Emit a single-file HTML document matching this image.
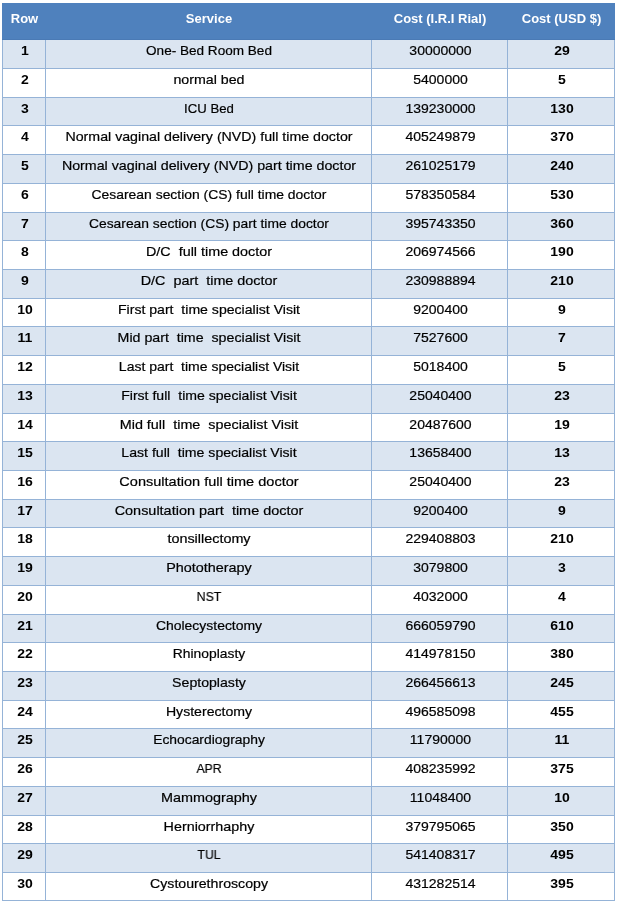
<!DOCTYPE html><html><head><meta charset="utf-8"><style>
html,body{margin:0;padding:0;background:#fff;width:619px;height:903px;overflow:hidden;position:relative;}
div{position:absolute;}
.t{font-family:"Liberation Sans",sans-serif;white-space:pre;text-align:center;line-height:20px;height:20px;color:#000;will-change:transform;}
.r{-webkit-text-stroke:0.2px currentColor;}
.b{font-weight:bold;}
.h{color:#fff;font-weight:bold;font-size:13px;}
.r{font-size:13px;transform:scaleX(1.077);}
.rb{font-size:13px;font-weight:bold;transform:scaleX(1.077);}
</style></head><body>
<div style="left:2px;top:3px;width:613px;height:37px;background:#4F81BD"></div>
<div style="left:2px;top:39px;width:613px;height:1px;background:#4A7AB5"></div>
<div style="left:2px;top:40px;width:613px;height:28px;background:#DBE5F1"></div>
<div style="left:2px;top:98px;width:613px;height:27px;background:#DBE5F1"></div>
<div style="left:2px;top:155px;width:613px;height:28px;background:#DBE5F1"></div>
<div style="left:2px;top:213px;width:613px;height:27px;background:#DBE5F1"></div>
<div style="left:2px;top:270px;width:613px;height:28px;background:#DBE5F1"></div>
<div style="left:2px;top:327px;width:613px;height:28px;background:#DBE5F1"></div>
<div style="left:2px;top:385px;width:613px;height:28px;background:#DBE5F1"></div>
<div style="left:2px;top:442px;width:613px;height:28px;background:#DBE5F1"></div>
<div style="left:2px;top:500px;width:613px;height:27px;background:#DBE5F1"></div>
<div style="left:2px;top:557px;width:613px;height:28px;background:#DBE5F1"></div>
<div style="left:2px;top:615px;width:613px;height:27px;background:#DBE5F1"></div>
<div style="left:2px;top:672px;width:613px;height:28px;background:#DBE5F1"></div>
<div style="left:2px;top:729px;width:613px;height:28px;background:#DBE5F1"></div>
<div style="left:2px;top:787px;width:613px;height:28px;background:#DBE5F1"></div>
<div style="left:2px;top:844px;width:613px;height:28px;background:#DBE5F1"></div>
<div style="left:2px;top:40px;width:1px;height:861px;background:#95B3D7"></div>
<div style="left:45px;top:40px;width:1px;height:861px;background:#95B3D7"></div>
<div style="left:371px;top:40px;width:1px;height:861px;background:#95B3D7"></div>
<div style="left:507px;top:40px;width:1px;height:861px;background:#95B3D7"></div>
<div style="left:614px;top:40px;width:1px;height:861px;background:#95B3D7"></div>
<div style="left:2px;top:68px;width:613px;height:1px;background:#95B3D7"></div>
<div style="left:2px;top:97px;width:613px;height:1px;background:#95B3D7"></div>
<div style="left:2px;top:125px;width:613px;height:1px;background:#95B3D7"></div>
<div style="left:2px;top:154px;width:613px;height:1px;background:#95B3D7"></div>
<div style="left:2px;top:183px;width:613px;height:1px;background:#95B3D7"></div>
<div style="left:2px;top:212px;width:613px;height:1px;background:#95B3D7"></div>
<div style="left:2px;top:240px;width:613px;height:1px;background:#95B3D7"></div>
<div style="left:2px;top:269px;width:613px;height:1px;background:#95B3D7"></div>
<div style="left:2px;top:298px;width:613px;height:1px;background:#95B3D7"></div>
<div style="left:2px;top:326px;width:613px;height:1px;background:#95B3D7"></div>
<div style="left:2px;top:355px;width:613px;height:1px;background:#95B3D7"></div>
<div style="left:2px;top:384px;width:613px;height:1px;background:#95B3D7"></div>
<div style="left:2px;top:413px;width:613px;height:1px;background:#95B3D7"></div>
<div style="left:2px;top:441px;width:613px;height:1px;background:#95B3D7"></div>
<div style="left:2px;top:470px;width:613px;height:1px;background:#95B3D7"></div>
<div style="left:2px;top:499px;width:613px;height:1px;background:#95B3D7"></div>
<div style="left:2px;top:527px;width:613px;height:1px;background:#95B3D7"></div>
<div style="left:2px;top:556px;width:613px;height:1px;background:#95B3D7"></div>
<div style="left:2px;top:585px;width:613px;height:1px;background:#95B3D7"></div>
<div style="left:2px;top:614px;width:613px;height:1px;background:#95B3D7"></div>
<div style="left:2px;top:642px;width:613px;height:1px;background:#95B3D7"></div>
<div style="left:2px;top:671px;width:613px;height:1px;background:#95B3D7"></div>
<div style="left:2px;top:700px;width:613px;height:1px;background:#95B3D7"></div>
<div style="left:2px;top:728px;width:613px;height:1px;background:#95B3D7"></div>
<div style="left:2px;top:757px;width:613px;height:1px;background:#95B3D7"></div>
<div style="left:2px;top:786px;width:613px;height:1px;background:#95B3D7"></div>
<div style="left:2px;top:815px;width:613px;height:1px;background:#95B3D7"></div>
<div style="left:2px;top:843px;width:613px;height:1px;background:#95B3D7"></div>
<div style="left:2px;top:872px;width:613px;height:1px;background:#95B3D7"></div>
<div style="left:2px;top:900px;width:613px;height:1px;background:#95B3D7"></div>
<div class="t h" style="left:3px;top:9px;width:42px;transform:translateX(0.5px)">Row</div>
<div class="t h" style="left:46px;top:9px;width:325px;transform:translateX(0.5px)">Service</div>
<div class="t h" style="left:372px;top:9px;width:135px;transform:translateX(0.5px)">Cost (I.R.I Rial)</div>
<div class="t h" style="left:508px;top:9px;width:106px;transform:translateX(0.5px)">Cost (USD $)</div>
<div class="t rb" style="left:3px;top:41px;width:42px;transform:translateX(1px) scaleX(1.0770);">1</div>
<div class="t r" style="left:46px;top:41px;width:325px;transform:translateX(0.5px) scaleX(1.0433);">One- Bed Room Bed</div>
<div class="t r" style="left:372px;top:41px;width:135px;transform:translateX(1px) scaleX(1.0770);">30000000</div>
<div class="t rb" style="left:508px;top:41px;width:106px;transform:translateX(1px) scaleX(1.0770);">29</div>
<div class="t rb" style="left:3px;top:70px;width:42px;transform:translateX(1px) scaleX(1.0770);">2</div>
<div class="t r" style="left:46px;top:70px;width:325px;transform:translateX(0.5px) scaleX(1.0928);">normal bed</div>
<div class="t r" style="left:372px;top:70px;width:135px;transform:translateX(1px) scaleX(1.0770);">5400000</div>
<div class="t rb" style="left:508px;top:70px;width:106px;transform:translateX(1px) scaleX(1.0770);">5</div>
<div class="t rb" style="left:3px;top:99px;width:42px;transform:translateX(1px) scaleX(1.0770);">3</div>
<div class="t r" style="left:46px;top:99px;width:325px;transform:translateX(0.5px) scaleX(1.0124);">ICU Bed</div>
<div class="t r" style="left:372px;top:99px;width:135px;transform:translateX(1px) scaleX(1.0770);">139230000</div>
<div class="t rb" style="left:508px;top:99px;width:106px;transform:translateX(1px) scaleX(1.0770);">130</div>
<div class="t rb" style="left:3px;top:127px;width:42px;transform:translateX(1px) scaleX(1.0770);">4</div>
<div class="t r" style="left:46px;top:127px;width:325px;transform:translateX(0.5px) scaleX(1.0916);">Normal vaginal delivery (NVD) full time doctor</div>
<div class="t r" style="left:372px;top:127px;width:135px;transform:translateX(1px) scaleX(1.0770);">405249879</div>
<div class="t rb" style="left:508px;top:127px;width:106px;transform:translateX(1px) scaleX(1.0770);">370</div>
<div class="t rb" style="left:3px;top:156px;width:42px;transform:translateX(1px) scaleX(1.0770);">5</div>
<div class="t r" style="left:46px;top:156px;width:325px;transform:translateX(0.5px) scaleX(1.0943);">Normal vaginal delivery (NVD) part time doctor</div>
<div class="t r" style="left:372px;top:156px;width:135px;transform:translateX(1px) scaleX(1.0770);">261025179</div>
<div class="t rb" style="left:508px;top:156px;width:106px;transform:translateX(1px) scaleX(1.0770);">240</div>
<div class="t rb" style="left:3px;top:185px;width:42px;transform:translateX(1px) scaleX(1.0770);">6</div>
<div class="t r" style="left:46px;top:185px;width:325px;transform:translateX(0.5px) scaleX(1.0696);">Cesarean section (CS) full time doctor</div>
<div class="t r" style="left:372px;top:185px;width:135px;transform:translateX(1px) scaleX(1.0770);">578350584</div>
<div class="t rb" style="left:508px;top:185px;width:106px;transform:translateX(1px) scaleX(1.0770);">530</div>
<div class="t rb" style="left:3px;top:214px;width:42px;transform:translateX(1px) scaleX(1.0770);">7</div>
<div class="t r" style="left:46px;top:214px;width:325px;transform:translateX(0.5px) scaleX(1.0645);">Cesarean section (CS) part time doctor</div>
<div class="t r" style="left:372px;top:214px;width:135px;transform:translateX(1px) scaleX(1.0770);">395743350</div>
<div class="t rb" style="left:508px;top:214px;width:106px;transform:translateX(1px) scaleX(1.0770);">360</div>
<div class="t rb" style="left:3px;top:242px;width:42px;transform:translateX(1px) scaleX(1.0770);">8</div>
<div class="t r" style="left:46px;top:242px;width:325px;transform:translateX(0.5px) scaleX(1.1037);">D/C&nbsp; full time doctor</div>
<div class="t r" style="left:372px;top:242px;width:135px;transform:translateX(1px) scaleX(1.0770);">206974566</div>
<div class="t rb" style="left:508px;top:242px;width:106px;transform:translateX(1px) scaleX(1.0770);">190</div>
<div class="t rb" style="left:3px;top:271px;width:42px;transform:translateX(1px) scaleX(1.0770);">9</div>
<div class="t r" style="left:46px;top:271px;width:325px;transform:translateX(0.5px) scaleX(1.1066);">D/C&nbsp; part&nbsp; time doctor</div>
<div class="t r" style="left:372px;top:271px;width:135px;transform:translateX(1px) scaleX(1.0770);">230988894</div>
<div class="t rb" style="left:508px;top:271px;width:106px;transform:translateX(1px) scaleX(1.0770);">210</div>
<div class="t rb" style="left:3px;top:300px;width:42px;transform:translateX(1px) scaleX(1.0770);">10</div>
<div class="t r" style="left:46px;top:300px;width:325px;transform:translateX(0.5px) scaleX(1.0830);">First part&nbsp; time specialist Visit</div>
<div class="t r" style="left:372px;top:300px;width:135px;transform:translateX(1px) scaleX(1.0770);">9200400</div>
<div class="t rb" style="left:508px;top:300px;width:106px;transform:translateX(1px) scaleX(1.0770);">9</div>
<div class="t rb" style="left:3px;top:328px;width:42px;transform:translateX(1px) scaleX(1.0770);">11</div>
<div class="t r" style="left:46px;top:328px;width:325px;transform:translateX(0.5px) scaleX(1.0926);">Mid part&nbsp; time&nbsp; specialist Visit</div>
<div class="t r" style="left:372px;top:328px;width:135px;transform:translateX(1px) scaleX(1.0770);">7527600</div>
<div class="t rb" style="left:508px;top:328px;width:106px;transform:translateX(1px) scaleX(1.0770);">7</div>
<div class="t rb" style="left:3px;top:357px;width:42px;transform:translateX(1px) scaleX(1.0770);">12</div>
<div class="t r" style="left:46px;top:357px;width:325px;transform:translateX(0.5px) scaleX(1.0770);">Last part&nbsp; time specialist Visit</div>
<div class="t r" style="left:372px;top:357px;width:135px;transform:translateX(1px) scaleX(1.0770);">5018400</div>
<div class="t rb" style="left:508px;top:357px;width:106px;transform:translateX(1px) scaleX(1.0770);">5</div>
<div class="t rb" style="left:3px;top:386px;width:42px;transform:translateX(1px) scaleX(1.0770);">13</div>
<div class="t r" style="left:46px;top:386px;width:325px;transform:translateX(0.5px) scaleX(1.0820);">First full&nbsp; time specialist Visit</div>
<div class="t r" style="left:372px;top:386px;width:135px;transform:translateX(1px) scaleX(1.0770);">25040400</div>
<div class="t rb" style="left:508px;top:386px;width:106px;transform:translateX(1px) scaleX(1.0770);">23</div>
<div class="t rb" style="left:3px;top:415px;width:42px;transform:translateX(1px) scaleX(1.0770);">14</div>
<div class="t r" style="left:46px;top:415px;width:325px;transform:translateX(0.5px) scaleX(1.1047);">Mid full&nbsp; time&nbsp; specialist Visit</div>
<div class="t r" style="left:372px;top:415px;width:135px;transform:translateX(1px) scaleX(1.0770);">20487600</div>
<div class="t rb" style="left:508px;top:415px;width:106px;transform:translateX(1px) scaleX(1.0770);">19</div>
<div class="t rb" style="left:3px;top:443px;width:42px;transform:translateX(1px) scaleX(1.0770);">15</div>
<div class="t r" style="left:46px;top:443px;width:325px;transform:translateX(0.5px) scaleX(1.0846);">Last full&nbsp; time specialist Visit</div>
<div class="t r" style="left:372px;top:443px;width:135px;transform:translateX(1px) scaleX(1.0770);">13658400</div>
<div class="t rb" style="left:508px;top:443px;width:106px;transform:translateX(1px) scaleX(1.0770);">13</div>
<div class="t rb" style="left:3px;top:472px;width:42px;transform:translateX(1px) scaleX(1.0770);">16</div>
<div class="t r" style="left:46px;top:472px;width:325px;transform:translateX(0.5px) scaleX(1.1173);">Consultation full time doctor</div>
<div class="t r" style="left:372px;top:472px;width:135px;transform:translateX(1px) scaleX(1.0770);">25040400</div>
<div class="t rb" style="left:508px;top:472px;width:106px;transform:translateX(1px) scaleX(1.0770);">23</div>
<div class="t rb" style="left:3px;top:501px;width:42px;transform:translateX(1px) scaleX(1.0770);">17</div>
<div class="t r" style="left:46px;top:501px;width:325px;transform:translateX(0.5px) scaleX(1.1115);">Consultation part&nbsp; time doctor</div>
<div class="t r" style="left:372px;top:501px;width:135px;transform:translateX(1px) scaleX(1.0770);">9200400</div>
<div class="t rb" style="left:508px;top:501px;width:106px;transform:translateX(1px) scaleX(1.0770);">9</div>
<div class="t rb" style="left:3px;top:529px;width:42px;transform:translateX(1px) scaleX(1.0770);">18</div>
<div class="t r" style="left:46px;top:529px;width:325px;transform:translateX(0.5px) scaleX(1.1066);">tonsillectomy</div>
<div class="t r" style="left:372px;top:529px;width:135px;transform:translateX(1px) scaleX(1.0770);">229408803</div>
<div class="t rb" style="left:508px;top:529px;width:106px;transform:translateX(1px) scaleX(1.0770);">210</div>
<div class="t rb" style="left:3px;top:558px;width:42px;transform:translateX(1px) scaleX(1.0770);">19</div>
<div class="t r" style="left:46px;top:558px;width:325px;transform:translateX(0.5px) scaleX(1.1063);">Phototherapy</div>
<div class="t r" style="left:372px;top:558px;width:135px;transform:translateX(1px) scaleX(1.0770);">3079800</div>
<div class="t rb" style="left:508px;top:558px;width:106px;transform:translateX(1px) scaleX(1.0770);">3</div>
<div class="t rb" style="left:3px;top:587px;width:42px;transform:translateX(1px) scaleX(1.0770);">20</div>
<div class="t r" style="left:46px;top:587px;width:325px;transform:translateX(0.5px) scaleX(0.9478);">NST</div>
<div class="t r" style="left:372px;top:587px;width:135px;transform:translateX(1px) scaleX(1.0770);">4032000</div>
<div class="t rb" style="left:508px;top:587px;width:106px;transform:translateX(1px) scaleX(1.0770);">4</div>
<div class="t rb" style="left:3px;top:616px;width:42px;transform:translateX(1px) scaleX(1.0770);">21</div>
<div class="t r" style="left:46px;top:616px;width:325px;transform:translateX(0.5px) scaleX(1.0729);">Cholecystectomy</div>
<div class="t r" style="left:372px;top:616px;width:135px;transform:translateX(1px) scaleX(1.0770);">666059790</div>
<div class="t rb" style="left:508px;top:616px;width:106px;transform:translateX(1px) scaleX(1.0770);">610</div>
<div class="t rb" style="left:3px;top:644px;width:42px;transform:translateX(1px) scaleX(1.0770);">22</div>
<div class="t r" style="left:46px;top:644px;width:325px;transform:translateX(0.5px) scaleX(1.0649);">Rhinoplasty</div>
<div class="t r" style="left:372px;top:644px;width:135px;transform:translateX(1px) scaleX(1.0770);">414978150</div>
<div class="t rb" style="left:508px;top:644px;width:106px;transform:translateX(1px) scaleX(1.0770);">380</div>
<div class="t rb" style="left:3px;top:673px;width:42px;transform:translateX(1px) scaleX(1.0770);">23</div>
<div class="t r" style="left:46px;top:673px;width:325px;transform:translateX(0.5px) scaleX(1.0861);">Septoplasty</div>
<div class="t r" style="left:372px;top:673px;width:135px;transform:translateX(1px) scaleX(1.0770);">266456613</div>
<div class="t rb" style="left:508px;top:673px;width:106px;transform:translateX(1px) scaleX(1.0770);">245</div>
<div class="t rb" style="left:3px;top:702px;width:42px;transform:translateX(1px) scaleX(1.0770);">24</div>
<div class="t r" style="left:46px;top:702px;width:325px;transform:translateX(0.5px) scaleX(1.0848);">Hysterectomy</div>
<div class="t r" style="left:372px;top:702px;width:135px;transform:translateX(1px) scaleX(1.0770);">496585098</div>
<div class="t rb" style="left:508px;top:702px;width:106px;transform:translateX(1px) scaleX(1.0770);">455</div>
<div class="t rb" style="left:3px;top:730px;width:42px;transform:translateX(1px) scaleX(1.0770);">25</div>
<div class="t r" style="left:46px;top:730px;width:325px;transform:translateX(0.5px) scaleX(1.0654);">Echocardiography</div>
<div class="t r" style="left:372px;top:730px;width:135px;transform:translateX(1px) scaleX(1.0770);">11790000</div>
<div class="t rb" style="left:508px;top:730px;width:106px;transform:translateX(1px) scaleX(1.0770);">11</div>
<div class="t rb" style="left:3px;top:759px;width:42px;transform:translateX(1px) scaleX(1.0770);">26</div>
<div class="t r" style="left:46px;top:759px;width:325px;transform:translateX(0.5px) scaleX(0.9414);">APR</div>
<div class="t r" style="left:372px;top:759px;width:135px;transform:translateX(1px) scaleX(1.0770);">408235992</div>
<div class="t rb" style="left:508px;top:759px;width:106px;transform:translateX(1px) scaleX(1.0770);">375</div>
<div class="t rb" style="left:3px;top:788px;width:42px;transform:translateX(1px) scaleX(1.0770);">27</div>
<div class="t r" style="left:46px;top:788px;width:325px;transform:translateX(0.5px) scaleX(1.1078);">Mammography</div>
<div class="t r" style="left:372px;top:788px;width:135px;transform:translateX(1px) scaleX(1.0770);">11048400</div>
<div class="t rb" style="left:508px;top:788px;width:106px;transform:translateX(1px) scaleX(1.0770);">10</div>
<div class="t rb" style="left:3px;top:817px;width:42px;transform:translateX(1px) scaleX(1.0770);">28</div>
<div class="t r" style="left:46px;top:817px;width:325px;transform:translateX(0.5px) scaleX(1.1018);">Herniorrhaphy</div>
<div class="t r" style="left:372px;top:817px;width:135px;transform:translateX(1px) scaleX(1.0770);">379795065</div>
<div class="t rb" style="left:508px;top:817px;width:106px;transform:translateX(1px) scaleX(1.0770);">350</div>
<div class="t rb" style="left:3px;top:845px;width:42px;transform:translateX(1px) scaleX(1.0770);">29</div>
<div class="t r" style="left:46px;top:845px;width:325px;transform:translateX(0.5px) scaleX(0.9478);">TUL</div>
<div class="t r" style="left:372px;top:845px;width:135px;transform:translateX(1px) scaleX(1.0770);">541408317</div>
<div class="t rb" style="left:508px;top:845px;width:106px;transform:translateX(1px) scaleX(1.0770);">495</div>
<div class="t rb" style="left:3px;top:874px;width:42px;transform:translateX(1px) scaleX(1.0770);">30</div>
<div class="t r" style="left:46px;top:874px;width:325px;transform:translateX(0.5px) scaleX(1.0882);">Cystourethroscopy</div>
<div class="t r" style="left:372px;top:874px;width:135px;transform:translateX(1px) scaleX(1.0770);">431282514</div>
<div class="t rb" style="left:508px;top:874px;width:106px;transform:translateX(1px) scaleX(1.0770);">395</div>
</body></html>
